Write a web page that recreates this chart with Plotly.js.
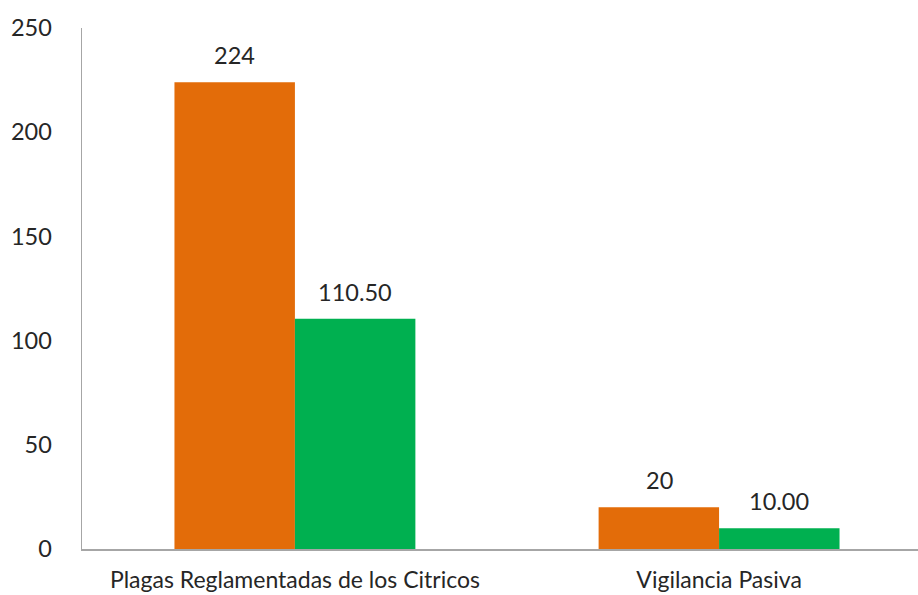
<!DOCTYPE html>
<html>
<head>
<meta charset="utf-8">
<script src="https://cdn.plot.ly/plotly-3.0.1.min.js"></script>
<style>html,body{margin:0;padding:0;background:#fff;}#chart{width:918px;height:595px;}</style>
</head>
<body>
<div id="chart"></div>
<script>
const categories = ["Plagas Reglamentadas de los Citricos", "Vigilancia Pasiva"];
const seriesA = [224, 20];
const seriesB = [110.5, 10];
const labelsA = ["224", "20"];
const labelsB = ["110.50", "10.00"];
const yTicks = [0, 50, 100, 150, 200, 250];

const orange = "#E36C09";
const green = "#00B050";
const fontFam = "Lato, 'Open Sans', sans-serif";
const barHalf = 0.1415;

const traces = [
  {type: "bar", x: [0, 1], y: seriesA, marker: {color: orange}, hoverinfo: "none", showlegend: false},
  {type: "bar", x: [0, 1], y: seriesB, marker: {color: green}, hoverinfo: "none", showlegend: false}
];

const annotations = [];
seriesA.forEach((v, i) => annotations.push({x: i - barHalf, y: v, xref: "x", yref: "y", text: labelsA[i], showarrow: false, yanchor: "middle", yshift: 27, font: {family: fontFam, size: 23.5, color: "#262626"}}));
seriesB.forEach((v, i) => annotations.push({x: i + barHalf, y: v, xref: "x", yref: "y", text: labelsB[i], showarrow: false, yanchor: "middle", yshift: 27, font: {family: fontFam, size: 23.5, color: "#262626"}}));

const layout = {
  width: 918, height: 595,
  margin: {l: 82, r: 0, t: 28, b: 46},
  paper_bgcolor: "#fff", plot_bgcolor: "#fff",
  barmode: "group", bargap: 0.432, bargroupgap: 0,
  font: {family: fontFam, size: 23.5, color: "#262626"},
  xaxis: {
    range: [-0.502, 1.469], tickmode: "array", tickvals: [0, 1], ticktext: categories,
    tickfont: {family: fontFam, size: 23, color: "#262626"},
    showline: true, linecolor: "#A6A6A6", linewidth: 1.5, showgrid: false, zeroline: false,
    ticks: "", ticklabelstandoff: 10, fixedrange: true
  },
  yaxis: {
    range: [0, 250], tickmode: "array", tickvals: yTicks, ticktext: yTicks.map(String),
    showline: true, linecolor: "#A6A6A6", linewidth: 1.5, showgrid: false, zeroline: false,
    ticks: "", ticklabelstandoff: 24, fixedrange: true
  },
  annotations: annotations
};

Plotly.newPlot("chart", traces, layout, {displayModeBar: false, staticPlot: true});
</script>
</body>
</html>
